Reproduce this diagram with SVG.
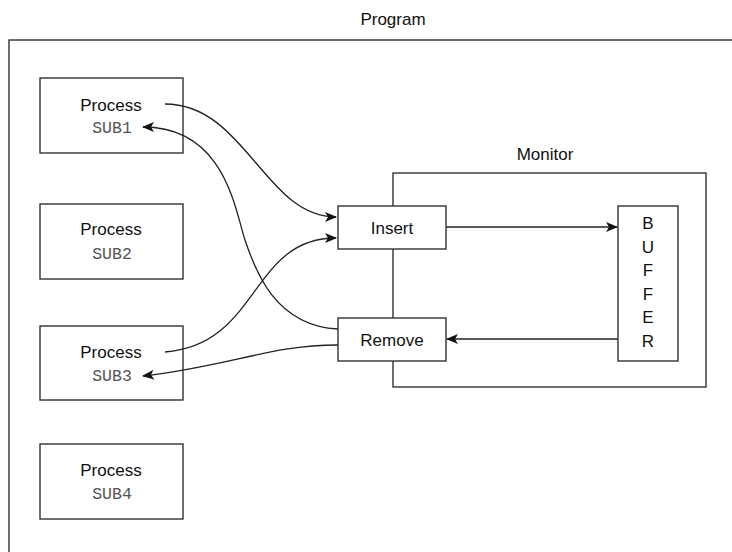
<svg xmlns="http://www.w3.org/2000/svg" width="732" height="552" viewBox="0 0 732 552">
<defs>
<style>
.box{fill:#fff;stroke:#333;stroke-width:1.4}
.frame{fill:none;stroke:#333;stroke-width:1.4}
.lbl{font-family:"Liberation Sans",Arial,sans-serif;font-size:17px;fill:#111;text-anchor:middle}
.mono{font-family:"Liberation Mono","Courier New",monospace;font-size:16.5px;fill:#555;text-anchor:middle}
.conn{fill:none;stroke:#222;stroke-width:1.3}
</style>
<marker id="arr" viewBox="0 0 12 10" refX="11" refY="5" markerWidth="12" markerHeight="10" markerUnits="userSpaceOnUse" orient="auto">
<path d="M0,0 L12,5 L0,10 L3,5 Z" fill="#111"/>
</marker>
</defs>
<rect width="732" height="552" fill="#fff"/>
<g id="program">
<rect class="frame" x="9" y="40" width="740" height="530"/>
<text class="lbl" x="393" y="25">Program</text>
</g>
<g id="monitor">
<rect class="frame" x="393" y="173" width="313" height="214"/>
<text class="lbl" x="545" y="160">Monitor</text>
</g>
<g id="sub1">
<rect class="box" x="40" y="78" width="143" height="75"/>
<text class="lbl" x="111" y="111">Process</text>
<text class="mono" x="112" y="133">SUB1</text>
</g>
<g id="sub2">
<rect class="box" x="40" y="204" width="143" height="75"/>
<text class="lbl" x="111" y="235">Process</text>
<text class="mono" x="112" y="259">SUB2</text>
</g>
<g id="sub3">
<rect class="box" x="40" y="326" width="143" height="74"/>
<text class="lbl" x="111" y="358">Process</text>
<text class="mono" x="112" y="381">SUB3</text>
</g>
<g id="sub4">
<rect class="box" x="40" y="444" width="143" height="75"/>
<text class="lbl" x="111" y="476">Process</text>
<text class="mono" x="112" y="499">SUB4</text>
</g>
<g id="insert">
<rect class="box" x="338" y="206" width="108" height="43"/>
<text class="lbl" x="392" y="234">Insert</text>
</g>
<g id="remove">
<rect class="box" x="338" y="318" width="108" height="43"/>
<text class="lbl" x="392" y="346">Remove</text>
</g>
<g id="buffer">
<rect class="box" x="618" y="206" width="60" height="155"/>
<text class="lbl" x="648" y="229">B</text>
<text class="lbl" x="648" y="252.6">U</text>
<text class="lbl" x="648" y="276.2">F</text>
<text class="lbl" x="648" y="299.8">F</text>
<text class="lbl" x="648" y="323.4">E</text>
<text class="lbl" x="648" y="347">R</text>
</g>
<g id="connectors">
<path class="conn" d="M165,104 C245,104 265,217 336,217" marker-end="url(#arr)"/>
<path class="conn" d="M338,329 C275,326 255,270 245,240 C235,210 225,127 143,127" marker-end="url(#arr)"/>
<path class="conn" d="M165,352 C260,345 250,238 336,238" marker-end="url(#arr)"/>
<path class="conn" d="M338,345 C270,345 230,366 143,376" marker-end="url(#arr)"/>
<path class="conn" d="M446,227 L617,227" marker-end="url(#arr)"/>
<path class="conn" d="M618,339 L447,339" marker-end="url(#arr)"/>
</g>
</svg>
